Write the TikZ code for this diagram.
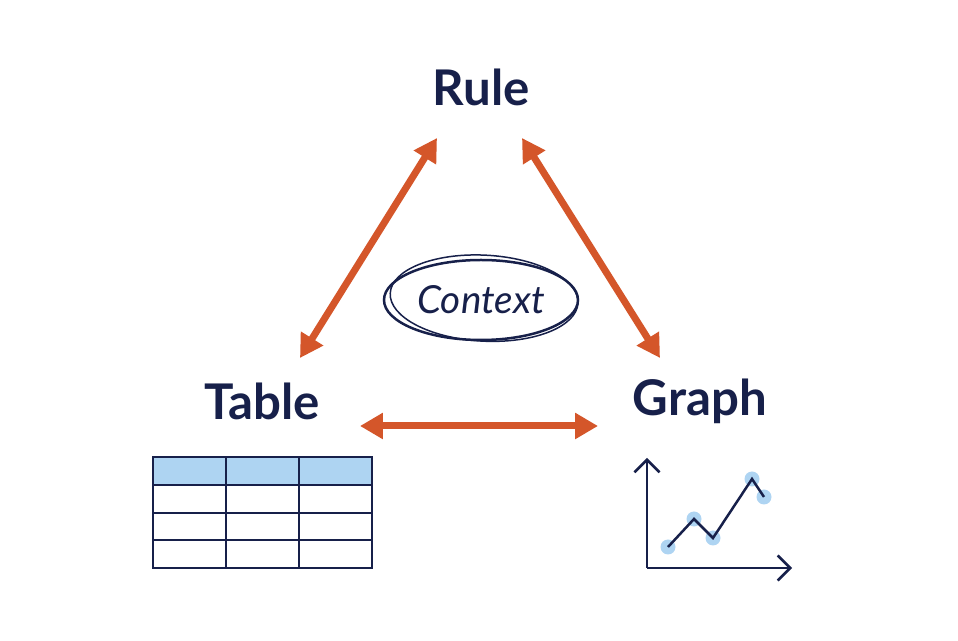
\documentclass[tikz,border=0pt]{standalone}
\usepackage{fontspec}
\setmainfont{Lato}
\usetikzlibrary{arrows.meta}
\definecolor{navy}{HTML}{17204A}
\definecolor{rust}{HTML}{D4562A}
\definecolor{paleblue}{HTML}{AED4F2}
\tikzset{
  label/.style={text=navy, font=\fontsize{28}{32}\selectfont\bfseries},
  link/.style={rust, line width=1.4mm, {Triangle[length=4.6mm,width=5mm]}-{Triangle[length=4.6mm,width=5mm]}},
  dot/.style={circle, fill=paleblue, inner sep=0pt, minimum size=3mm}
}
\begin{document}
\begin{tikzpicture}[x=0.02cm,y=-0.02cm]
  \useasboundingbox (0,0) rectangle (958,641);

  \node[label] (rule) at (481,87) {Rule};
  \node[label] (table) at (262,401) {Table};
  \node[label] (graph) at (700,401) {Graph};

  \coordinate (rl) at (437,138);
  \coordinate (rr) at (522,138);
  \coordinate (tu) at (300,358);
  \coordinate (gu) at (660,358);
  \coordinate (tr) at (360,426);
  \coordinate (gl) at (598,426);
  \draw[link] (rl) -- (tu);
  \draw[link] (rr) -- (gu);
  \draw[link] (tr) -- (gl);

  % context
  \draw[navy, line width=0.5mm] (481,300) ellipse (97 and 40);
  \draw[navy, line width=0.3mm, rotate around={-3:(481,300)}] (484,298) ellipse (94 and 43);
  \node[text=navy, font=\fontsize{22}{26}\selectfont\itshape] (ctx) at (481,300) {Context};

  % table
  \fill[paleblue] (153,457) rectangle (372,485);
  \draw[navy, line width=0.4mm] (153,457) rectangle (372,568);
  \foreach \y in {485,513,540} \draw[navy, line width=0.4mm] (153,\y) -- (372,\y);
  \foreach \x in {226,299} \draw[navy, line width=0.4mm] (\x,457) -- (\x,568);

  % graph
  \coordinate (o) at (647,568);
  \draw[navy, line width=0.5mm, -{Straight Barb[length=2.5mm]}] (o) -- (647,458);
  \draw[navy, line width=0.5mm, -{Straight Barb[length=2.5mm]}] (o) -- (792,568);
  \foreach \p [count=\i] in {(668,547),(694,519),(713,538),(752,479),(764,497)}
    \node[dot] (p\i) at \p {};
  \draw[navy, line width=0.5mm] (p1.center) -- (p2.center) -- (p3.center) -- (p4.center) -- (p5.center);
\end{tikzpicture}
\end{document}
